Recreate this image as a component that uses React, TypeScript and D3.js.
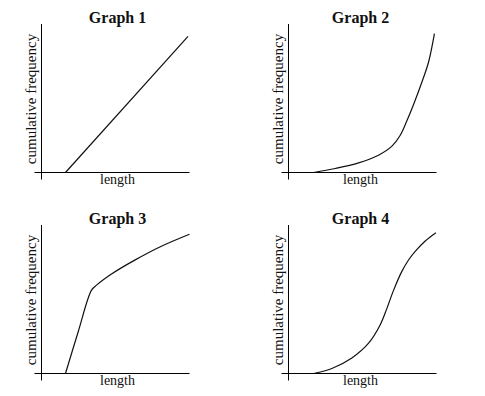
import React from 'react'
import * as d3 from 'd3'

// values, in units of 0..10 on both axes
const graph1X = [1.62, 9.9]
const graph1Y = [0, 9.2]

const graph2X = [1.69, 3.16, 4.73, 6.08, 6.99, 7.55, 8.0, 8.45, 9.01, 9.46, 9.86]
const graph2Y = [0, 0.27, 0.65, 1.17, 1.78, 2.52, 3.5, 4.6, 6.1, 7.45, 9.39]

const graph3X = [1.62, 2.48, 3.38, 3.72, 4.73, 6.3, 8.1, 10.0]
const graph3Y = [0, 2.82, 5.63, 5.97, 6.72, 7.66, 8.6, 9.41]

const graph4X = [1.69, 2.93, 4.28, 5.41, 6.2, 6.65, 7.09, 7.66, 8.1, 8.56, 9.24, 9.96]
const graph4Y = [0, 0.34, 1.05, 2.05, 3.3, 4.4, 5.6, 6.9, 7.65, 8.25, 8.95, 9.51]

const titles = ['Graph 1', 'Graph 2', 'Graph 3', 'Graph 4']
const xLabel = 'length'
const yLabel = 'cumulative frequency'

const series = [
  [graph1X, graph1Y],
  [graph2X, graph2Y],
  [graph3X, graph3Y],
  [graph4X, graph4Y]
]

const font = '"Liberation Serif", "Times New Roman", serif'

const Panel = ({ ox, oy, title, xs, ys, labelDx }) => {
  const size = 148
  const x = d3.scaleLinear().domain([0, 10]).range([ox, ox + size])
  const y = d3.scaleLinear().domain([0, 10]).range([oy, oy - size])

  const pts = xs.map((v, i) => [v, ys[i]])
  const line = d3
    .line()
    .x((d) => x(d[0]))
    .y((d) => y(d[1]))
    .curve(d3.curveCatmullRom.alpha(0.5))

  return (
    <g>
      <line x1={ox} y1={oy + 7} x2={ox} y2={oy - size - 0.5} stroke="#000" strokeWidth={1} />
      <line x1={ox - 7} y1={oy} x2={ox + size} y2={oy} stroke="#000" strokeWidth={1} />
      <path d={line(pts)} fill="none" stroke="#111" strokeWidth={1.2} />

      <text
        x={ox + labelDx}
        y={oy - 149.5}
        textAnchor="middle"
        fontFamily={font}
        fontWeight="bold"
        fontSize={16}
        fill="#111"
      >
        {title}
      </text>
      <text x={ox + labelDx} y={oy + 11.5} textAnchor="middle" fontFamily={font} fontSize={14} fill="#111">
        {xLabel}
      </text>
      <text
        transform={`translate(${ox - 5.5},${oy - 73.5}) rotate(-90)`}
        textAnchor="middle"
        fontFamily={font}
        fontSize={15}
        fill="#111"
      >
        {yLabel}
      </text>
    </g>
  )
}

export default function App() {
  const cols = [41.5, 288.5]
  const rows = [172.5, 373.5]
  const labelDx = [76, 72]

  return (
    <svg
      width={485}
      height={396}
      style={{ position: 'absolute', left: 0, top: 0, background: '#fff' }}
    >
      {series.map(([xs, ys], i) => (
        <Panel
          key={i}
          ox={cols[i % 2]}
          oy={rows[Math.floor(i / 2)]}
          title={titles[i]}
          xs={xs}
          ys={ys}
          labelDx={labelDx[i % 2]}
        />
      ))}
    </svg>
  )
}
